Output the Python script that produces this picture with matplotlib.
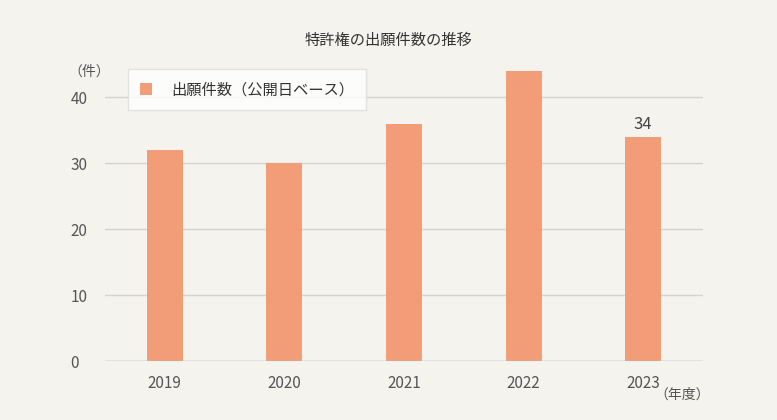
import matplotlib
matplotlib.use("Agg")
import matplotlib.pyplot as plt

years = ["2019", "2020", "2021", "2022", "2023"]
counts = [32, 30, 36, 44, 34]

plt.rcParams['font.family'] = ['Noto Sans CJK JP', 'DejaVu Sans']
bg = "#f5f3ee"
fig = plt.figure(figsize=(7.77, 4.20), dpi=100, facecolor=bg)
ax = fig.add_axes([105/777, 1-361/420, (703-105)/777, (361-71)/420])
ax.set_facecolor(bg)
x = range(len(years))
bars = ax.bar(x, counts, width=0.3, color="#f29c78", zorder=3, label="出願件数（公開日ベース）")
ax.set_ylim(0, 44)
ax.set_xlim(-0.5, 4.5)
ax.set_yticks([0, 10, 20, 30, 40])
ax.grid(axis="y", color="#d5d3ce", linewidth=1, zorder=0)
for s in ax.spines.values():
    s.set_visible(False)
ax.axhline(0, color="#bbbbbb", linewidth=1, zorder=4)
ax.tick_params(length=0, labelsize=11, colors="#555555", pad=10)
ax.set_yticklabels(["0", "10", "20", "30", "40"])
for lab in ax.get_yticklabels():
    lab.set_horizontalalignment("left")
ax.tick_params(axis="y", pad=25)
ax.set_xticks(list(x))
ax.set_xticklabels(years)
ax.text(4, counts[4] + 0.6, str(counts[4]), ha="center", va="bottom", fontsize=12, color="#444444")
fig.text(0.5, 1-40/420, "特許権の出願件数の推移", ha="center", va="center", fontsize=11, color="#333333")
fig.text(68/777, 1-72/420, "（件）", ha="left", va="center", fontsize=10, color="#555555")
fig.text(710/777, 1-395/420, "（年度）", ha="right", va="center", fontsize=10, color="#555555")
leg = ax.legend(loc="upper left", bbox_to_anchor=((128-105)/598, 1.0 + 2/290), frameon=True,
                fancybox=False, fontsize=11, handlelength=0.8, handleheight=0.8,
                borderpad=0.8, handletextpad=1.2, borderaxespad=0)
leg.get_frame().set_facecolor("white")
leg.get_frame().set_edgecolor("#dddddd")
for t in leg.get_texts():
    t.set_color("#333333")
fig.savefig("out.png", dpi=100, facecolor=bg)
